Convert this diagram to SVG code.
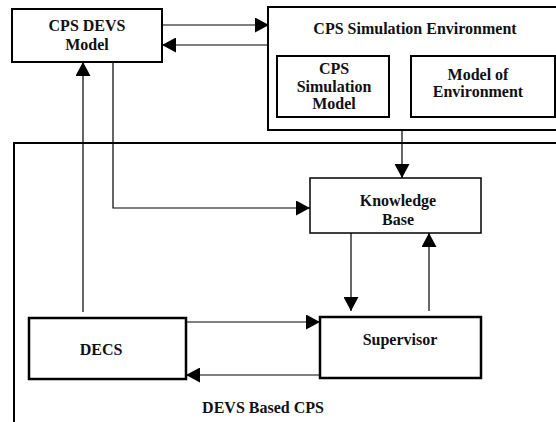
<svg xmlns="http://www.w3.org/2000/svg" width="556" height="422" viewBox="0 0 556 422">
<defs>
<marker id="ah" markerUnits="userSpaceOnUse" markerWidth="14" markerHeight="15" refX="14" refY="7.5" orient="auto">
<path d="M0,0 L14,7.5 L0,15 z" fill="#000"/>
</marker>
<style>
.box{fill:#fff;stroke:#000;stroke-width:2}
.thin{stroke-width:1.5}
.thick{stroke-width:2.5}
.frame{fill:none;stroke:#000;stroke-width:2}
.lbl{font-family:"Liberation Serif","Times New Roman",serif;font-weight:bold;font-size:16px;text-anchor:middle;fill:#111}
.conn path{fill:none;stroke:#000;stroke-width:1.2;marker-end:url(#ah)}
</style>
</defs>
<rect width="556" height="422" fill="#fff"/>
<g id="devs-based-cps">
<rect class="frame" x="14" y="143" width="560" height="300"/>
<text class="lbl" x="263" y="413">DEVS Based CPS</text>
</g>
<g id="cps-sim-env">
<rect class="box" x="268" y="7" width="300" height="123"/>
<text class="lbl" x="415" y="34">CPS Simulation Environment</text>
</g>
<g id="cps-sim-model">
<rect class="box" x="277" y="56" width="112" height="61"/>
<text class="lbl" x="334" y="74">CPS</text>
<text class="lbl" x="334" y="92">Simulation</text>
<text class="lbl" x="334" y="109">Model</text>
</g>
<g id="model-of-env">
<rect class="box" x="411" y="56" width="144" height="61"/>
<text class="lbl" x="478" y="80">Model of</text>
<text class="lbl" x="478" y="97">Environment</text>
</g>
<g id="cps-devs-model">
<rect class="box" x="12" y="9" width="150" height="53"/>
<text class="lbl" x="87" y="31">CPS DEVS</text>
<text class="lbl" x="87" y="50">Model</text>
</g>
<g id="knowledge-base">
<rect class="box thin" x="310" y="178" width="171" height="55"/>
<text class="lbl" x="398" y="206">Knowledge</text>
<text class="lbl" x="398" y="225">Base</text>
</g>
<g id="supervisor">
<rect class="box thick" x="320" y="317" width="161" height="61"/>
<text class="lbl" x="400" y="345">Supervisor</text>
</g>
<g id="decs">
<rect class="box thick" x="29" y="318" width="157" height="61"/>
<text class="lbl" x="101" y="355">DECS</text>
</g>
<g id="connectors" class="conn">
<path d="M162,25 H269"/>
<path d="M268,45 H162"/>
<path d="M83,312 V62"/>
<path d="M113,62 V208 H310"/>
<path d="M402,130 V178"/>
<path d="M351,233 V311"/>
<path d="M429,311 V233"/>
<path d="M186,322 H320"/>
<path d="M320,375 H186"/>
</g>
</svg>
